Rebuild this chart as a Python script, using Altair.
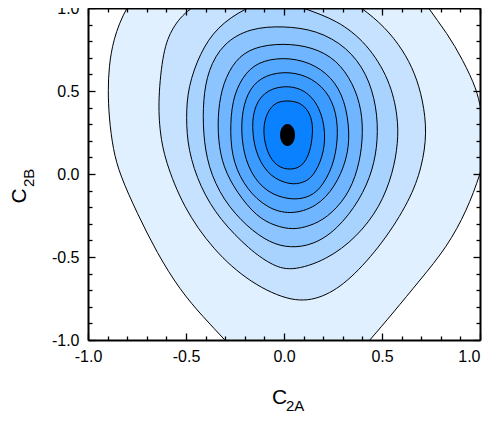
import altair as alt
import pandas as pd

# ---- contour lines (data units), outermost first ----
c1_x = [-0.811, -0.872, -0.893, -0.898, -0.893, -0.872, -0.837, -0.750, -0.648, -0.531, -0.413, -0.301, -0.199, 0.082, 0.337, 0.439, 0.556, 0.694, 0.832, 0.934, 1.000, 1.051, 1.000, 0.985, 0.913, 0.832, 0.735, 0.643, 0.082, -0.684]
c1_y = [1.000, 0.807, 0.645, 0.506, 0.343, 0.145, -0.006, -0.235, -0.476, -0.699, -0.861, -1.000, -1.133, -1.271, -1.133, -1.000, -0.837, -0.639, -0.440, -0.217, -0.006, 0.205, 0.404, 0.506, 0.687, 0.849, 1.000, 1.169, 1.349, 1.199]

c2_x = [-0.020, 0.286, 0.398, 0.515, 0.607, 0.668, 0.709, 0.730, 0.704, 0.643, 0.505, 0.337, 0.199, 0.046, -0.173, -0.362, -0.515, -0.607, -0.633, -0.643, -0.617, -0.571, -0.490, -0.327]
c2_y = [1.120, 1.084, 1.000, 0.886, 0.747, 0.608, 0.446, 0.247, 0.042, -0.157, -0.416, -0.639, -0.747, -0.777, -0.657, -0.458, -0.199, 0.084, 0.247, 0.446, 0.747, 0.880, 1.000, 1.084]

c3_x = [-0.046, 0.107, 0.270, 0.423, 0.541, 0.582, 0.582, 0.556, 0.490, 0.372, 0.219, 0.031, -0.071, -0.173, -0.327, -0.429, -0.490, -0.500, -0.490, -0.429, -0.342, -0.199]
c3_y = [1.066, 0.994, 0.928, 0.789, 0.566, 0.343, 0.187, 0.006, -0.199, -0.380, -0.518, -0.590, -0.542, -0.458, -0.277, -0.078, 0.145, 0.343, 0.524, 0.729, 0.886, 1.000]

c4_x = [-0.005, 0.168, 0.321, 0.423, 0.474, 0.480, 0.454, 0.388, 0.270, 0.148, 0.031, -0.071, -0.189, -0.311, -0.388, -0.413, -0.413, -0.388, -0.311, -0.173]
c4_y = [0.892, 0.867, 0.765, 0.608, 0.404, 0.205, 0.024, -0.157, -0.337, -0.428, -0.446, -0.416, -0.319, -0.157, 0.042, 0.247, 0.446, 0.627, 0.789, 0.880]

c5_x = [-0.005, 0.148, 0.270, 0.352, 0.398, 0.403, 0.378, 0.321, 0.219, 0.133, 0.046, -0.046, -0.138, -0.240, -0.311, -0.337, -0.337, -0.311, -0.250, -0.158]
c5_y = [0.789, 0.765, 0.687, 0.548, 0.386, 0.205, 0.024, -0.139, -0.265, -0.313, -0.337, -0.313, -0.259, -0.114, 0.042, 0.205, 0.386, 0.548, 0.687, 0.765]

c6_x = [-0.005, 0.133, 0.245, 0.311, 0.337, 0.321, 0.260, 0.168, 0.031, -0.087, -0.189, -0.260, -0.276, -0.265, -0.214, -0.138]
c6_y = [0.705, 0.675, 0.584, 0.446, 0.247, 0.084, -0.078, -0.199, -0.247, -0.205, -0.096, 0.066, 0.247, 0.446, 0.584, 0.675]

c7_x = [-0.005, 0.117, 0.219, 0.270, 0.276, 0.250, 0.184, 0.117, 0.031, -0.087, -0.173, -0.214, -0.219, -0.189, -0.122]
c7_y = [0.620, 0.596, 0.506, 0.367, 0.205, 0.042, -0.096, -0.145, -0.157, -0.114, 0.006, 0.163, 0.343, 0.488, 0.584]

c8_x = [-0.005, 0.107, 0.184, 0.214, 0.199, 0.148, 0.097, 0.031, -0.071, -0.138, -0.163, -0.158, -0.107]
c8_y = [0.536, 0.512, 0.404, 0.247, 0.102, -0.018, -0.054, -0.066, -0.018, 0.102, 0.247, 0.386, 0.494]

c9_x = [0.015, 0.097, 0.143, 0.148, 0.133, 0.092, 0.031, -0.036, -0.087, -0.107, -0.097, -0.056]
c9_y = [0.446, 0.428, 0.343, 0.247, 0.127, 0.042, 0.024, 0.042, 0.127, 0.247, 0.343, 0.428]

best_x = [0.018]
best_y = [0.235]

fills = ["#E1F0FF", "#C6E2FF", "#A8D3FF", "#8BC4FF", "#6FB5FF",
         "#55A8FF", "#3C9BFF", "#228EFF", "#0A82FF"]

x_major = [-1.0, -0.5, 0.0, 0.5, 1.0]
y_major = [-1.0, -0.5, 0.0, 0.5, 1.0]
x_ticks = [-1.0, -0.9, -0.8, -0.7, -0.6, -0.5, -0.4, -0.3, -0.2, -0.1, 0.0,
           0.1, 0.2, 0.3, 0.4, 0.5, 0.6, 0.7, 0.8, 0.9, 1.0]
y_ticks = list(x_ticks)

x_title = ["C", "2A"]
y_title = ["C", "2B"]

W, H = 392, 332
FONT = "Liberation Sans"

xs = alt.Scale(domain=[-1, 1], nice=False, zero=False)
ys = alt.Scale(domain=[-1, 1], nice=False, zero=False)

major_test = "abs(datum.value*2 - round(datum.value*2)) < 0.001"
tick_size = {"condition": {"test": major_test, "value": 7}, "value": 4}
fix_minus = "replace(datum.label, '\u2212', '-')"

x_lab_axis = alt.Axis(orient="bottom", values=x_major, format=".1f", labelExpr=fix_minus,
                      ticks=False, labelPadding=8, labelFontSize=16, labelFont=FONT,
                      labelColor="black", domain=True, domainColor="black", domainWidth=2,
                      grid=False, title=None, zindex=2,
                      labelAlign={"condition": {"test": "datum.value >= 1", "value": "right"}, "value": "center"})
y_lab_axis = alt.Axis(orient="left", values=y_major, format=".1f", labelExpr=fix_minus,
                      ticks=False, labelPadding=9, labelFontSize=16, labelFont=FONT,
                      labelColor="black", domain=True, domainColor="black", domainWidth=2,
                      grid=False, title=None, zindex=2)


def tick_axis(orient, offset, values, domain):
    return alt.Axis(orient=orient, offset=offset, values=values, labels=False,
                    ticks=True, tickSize=tick_size, tickColor="black", tickWidth=1.3,
                    domain=domain, domainColor="black", domainWidth=2,
                    grid=False, title=None, zindex=2)


contours = [(c1_x, c1_y), (c2_x, c2_y), (c3_x, c3_y), (c4_x, c4_y), (c5_x, c5_y),
            (c6_x, c6_y), (c7_x, c7_y), (c8_x, c8_y), (c9_x, c9_y)]

layers = []
for k, (cx, cy) in enumerate(contours):
    df = pd.DataFrame({"x": cx, "y": cy, "i": list(range(len(cx)))})
    xa = x_lab_axis if k == 0 else None
    ya = y_lab_axis if k == 0 else None
    layers.append(
        alt.Chart(df).mark_line(fill=fills[k], stroke="black", strokeWidth=1,
                                interpolate="basis-closed", clip=True).encode(
            x=alt.X("x:Q", scale=xs, axis=xa),
            y=alt.Y("y:Q", scale=ys, axis=ya),
            order=alt.Order("i:Q"),
        )
    )

best_df = pd.DataFrame({"x": best_x, "y": best_y})
layers.append(
    alt.Chart(best_df).mark_point(
        shape="M0,-1 A0.68,1 0 1,1 0,1 A0.68,1 0 1,1 0,-1 Z",
        filled=True, color="black", opacity=1, size=484, clip=True
    ).encode(x=alt.X("x:Q", scale=xs, axis=None), y=alt.Y("y:Q", scale=ys, axis=None))
)

# inside ticks: bottom & left edges
layers.append(
    alt.Chart(best_df).mark_point(opacity=0).encode(
        x=alt.X("x:Q", scale=xs, axis=tick_axis("top", -H, x_ticks, False)),
        y=alt.Y("y:Q", scale=ys, axis=tick_axis("right", -W, y_ticks, False)),
    )
)
# inside ticks: top & right edges (with frame lines)
layers.append(
    alt.Chart(best_df).mark_point(opacity=0).encode(
        x=alt.X("x:Q", scale=xs, axis=tick_axis("bottom", -H, x_ticks, True)),
        y=alt.Y("y:Q", scale=ys, axis=tick_axis("left", -W, y_ticks, True)),
    )
)

# axis titles with subscripts
xt = pd.DataFrame({"t": [x_title[0]]})
xs_t = pd.DataFrame({"t": [x_title[1]]})
yt = pd.DataFrame({"t": [y_title[0]]})
ys_t = pd.DataFrame({"t": [y_title[1]]})
layers.append(alt.Chart(xt).mark_text(font=FONT, fontSize=21, align="center", baseline="alphabetic",
                                      color="black").encode(x=alt.value(191.5), y=alt.value(396), text="t:N"))
layers.append(alt.Chart(xs_t).mark_text(font=FONT, fontSize=15, align="left", baseline="alphabetic",
                                        color="black").encode(x=alt.value(198), y=alt.value(403), text="t:N"))
layers.append(alt.Chart(yt).mark_text(font=FONT, fontSize=21, align="center", baseline="alphabetic",
                                      angle=270, color="black").encode(x=alt.value(-62), y=alt.value(188), text="t:N"))
layers.append(alt.Chart(ys_t).mark_text(font=FONT, fontSize=15, align="left", baseline="alphabetic",
                                        angle=270, color="black").encode(x=alt.value(-54), y=alt.value(179), text="t:N"))

chart = alt.layer(*layers).resolve_axis(x="independent", y="independent").properties(
    width=W, height=H,
    autosize=alt.AutoSizeParams(type="none"),
    padding={"left": 80, "top": 0, "right": 2, "bottom": 74},
    background="white",
).configure_view(stroke=None)

chart.save("out.html", embed_options={"renderer": "svg", "actions": False})
